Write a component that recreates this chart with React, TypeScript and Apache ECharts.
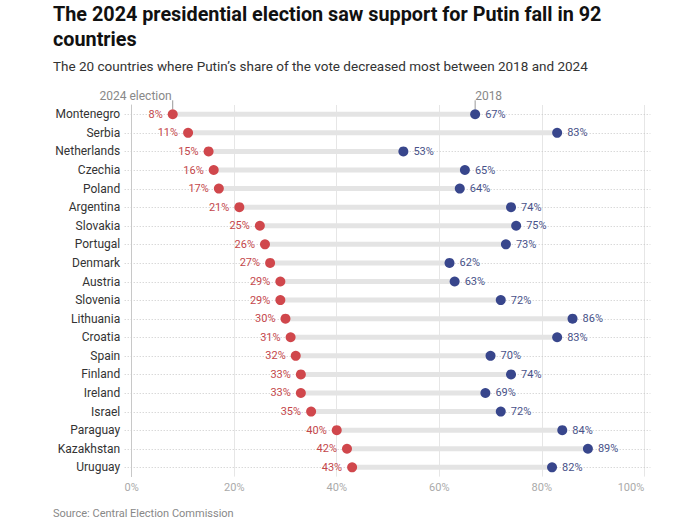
import React, { useEffect, useRef } from "react";
import * as echarts from "echarts";

const countries = [
  "Montenegro", "Serbia", "Netherlands", "Czechia", "Poland", "Argentina", "Slovakia",
  "Portugal", "Denmark", "Austria", "Slovenia", "Lithuania", "Croatia", "Spain",
  "Finland", "Ireland", "Israel", "Paraguay", "Kazakhstan", "Uruguay",
];
const share2024 = [8, 11, 15, 16, 17, 21, 25, 26, 27, 29, 29, 30, 31, 32, 33, 33, 35, 40, 42, 43];
const share2018 = [67, 83, 53, 65, 64, 74, 75, 73, 62, 63, 72, 86, 83, 70, 74, 69, 72, 84, 89, 82];
const xTicks = [0, 20, 40, 60, 80, 100];

const TITLE = "The 2024 presidential election saw support for Putin fall in 92\ncountries";
const SUBTITLE = "The 20 countries where Putin\u2019s share of the vote decreased most between 2018 and 2024";
const SOURCE = "Source: Central Election Commission";

const RED = "#d0474c";
const BLUE = "#38468c";
const RED_TXT = "#c4474b";
const BLUE_TXT = "#485289";
const FONT = "Roboto, 'Noto Sans', sans-serif";

export default function App() {
  const ref = useRef<HTMLDivElement>(null);
  useEffect(() => {
    if (!ref.current) return;
    const chart = echarts.init(ref.current, undefined, { renderer: "svg" });
    const rangeData = countries.map((_, i) => [share2024[i], share2018[i], i]);
    chart.setOption({
      animation: false,
      textStyle: { fontFamily: FONT },
      title: [
        {
          text: TITLE,
          left: 53,
          top: 2,
          padding: 0,
          textStyle: { fontSize: 19.8, fontWeight: "bold", color: "#111", lineHeight: 25, fontFamily: FONT },
        },
        {
          text: SUBTITLE,
          left: 53,
          top: 59,
          padding: 0,
          textStyle: { fontSize: 13.5, fontWeight: "normal", color: "#333", fontFamily: FONT },
        },
        {
          text: SOURCE,
          left: 53,
          top: 508,
          padding: 0,
          textStyle: { fontSize: 11, fontWeight: "normal", color: "#888", fontFamily: FONT },
        },
      ],
      grid: { left: 131.7, right: 50.7, top: 105, bottom: 53.4, containLabel: false },
      xAxis: {
        type: "value",
        min: xTicks[0],
        max: xTicks[xTicks.length - 1],
        interval: 20,
        axisLine: { show: false },
        axisTick: { show: false },
        axisLabel: {
          formatter: "{value}%",
          color: "#aaa",
          fontSize: 11,
          margin: 5,
          alignMaxLabel: "right",
          fontFamily: FONT,
        },
        splitLine: { show: true, lineStyle: { color: "#e6e6e6", width: 1 } },
      },
      yAxis: {
        type: "category",
        data: countries,
        inverse: true,
        axisLine: { show: true, lineStyle: { color: "#c8c8c8", width: 1 } },
        axisTick: { show: false },
        axisLabel: { color: "#333", fontSize: 12, margin: 11.5, fontFamily: FONT },
        splitLine: { show: false },
      },
      series: [
        {
          type: "custom",
          clip: false,
          z: 1,
          data: rangeData,
          encode: { x: [0, 1], y: 2 },
          renderItem: (params: any, api: any) => {
            const yi = api.value(2);
            const p24 = api.coord([api.value(0), yi]);
            const p18 = api.coord([api.value(1), yi]);
            const left = api.coord([0, yi])[0] - 7;
            const right = api.coord([100, yi])[0] + 6;
            const y = Math.round(p24[1]) + 0.5;
            const children: any[] = [
              {
                type: "line",
                shape: { x1: left, y1: y, x2: right, y2: y },
                style: { stroke: "#c8c8c8", lineWidth: 1, lineDash: [1, 2] },
              },
              {
                type: "line",
                shape: { x1: p24[0], y1: p24[1], x2: p18[0], y2: p18[1] },
                style: { stroke: "#e4e4e4", lineWidth: 5 },
              },
            ];
            if (params.dataIndex === 0) {
              children.push(
                {
                  type: "line",
                  shape: { x1: p24[0], y1: p24[1] - 14, x2: p24[0], y2: p24[1] - 5 },
                  style: { stroke: "#999", lineWidth: 1 },
                },
                {
                  type: "text",
                  style: {
                    x: p24[0] - 1,
                    y: p24[1] - 18.5,
                    text: "2024 election",
                    align: "right",
                    verticalAlign: "middle",
                    fill: "#888",
                    fontSize: 12,
                    fontFamily: FONT,
                  },
                },
                {
                  type: "line",
                  shape: { x1: p18[0], y1: p18[1] - 14, x2: p18[0], y2: p18[1] - 5 },
                  style: { stroke: "#999", lineWidth: 1 },
                },
                {
                  type: "text",
                  style: {
                    x: p18[0],
                    y: p18[1] - 18.5,
                    text: "2018",
                    align: "left",
                    verticalAlign: "middle",
                    fill: "#888",
                    fontSize: 12,
                    fontFamily: FONT,
                  },
                }
              );
            }
            return { type: "group", children };
          },
        },
        {
          name: "2024",
          type: "scatter",
          z: 3,
          symbolSize: 10,
          itemStyle: { color: RED, opacity: 1 },
          data: share2024.map((v, i) => [v, countries[i]]),
          label: {
            show: true,
            position: "left",
            distance: 5,
            color: RED_TXT,
            fontSize: 11,
            fontFamily: FONT,
            formatter: (p: any) => p.value[0] + "%",
          },
        },
        {
          name: "2018",
          type: "scatter",
          z: 3,
          symbolSize: 10,
          itemStyle: { color: BLUE, opacity: 1 },
          data: share2018.map((v, i) => [v, countries[i]]),
          label: {
            show: true,
            position: "right",
            distance: 5,
            color: BLUE_TXT,
            fontSize: 11,
            fontFamily: FONT,
            formatter: (p: any) => p.value[0] + "%",
          },
        },
      ],
    });
    return () => chart.dispose();
  }, []);
  return (
    <div
      ref={ref}
      style={{ position: "fixed", left: 0, top: 0, width: 695, height: 530, background: "#fff" }}
    />
  );
}
